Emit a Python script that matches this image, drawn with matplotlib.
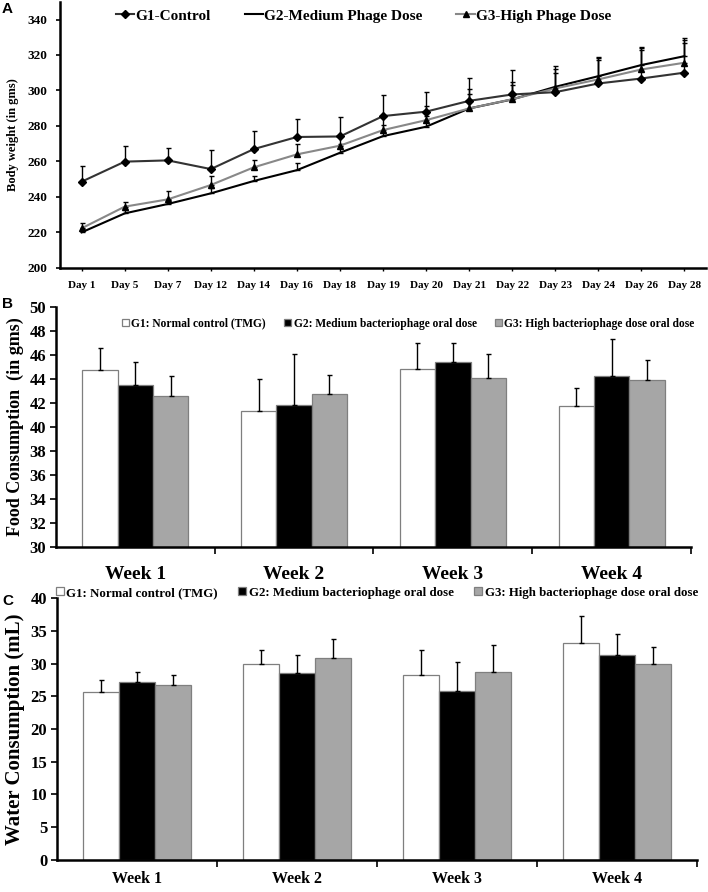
import matplotlib
matplotlib.use("Agg")
import matplotlib.pyplot as plt
from matplotlib.lines import Line2D
import numpy as np

# Panel A: body weight
days = ["Day 1", "Day 5", "Day 7", "Day 12", "Day 14", "Day 16", "Day 18", "Day 19",
        "Day 20", "Day 21", "Day 22", "Day 23", "Day 24", "Day 26", "Day 28"]
g1_bw = [248.5, 259.8, 260.5, 255.6, 266.9, 273.7, 274.0, 285.5, 288.0, 294.1, 297.7, 299.0, 303.9, 306.7, 310.0]
g1_bw_err = [9, 9, 7, 11, 10, 10, 11, 12, 11, 13, 14, 15, 15, 16, 17]
g2_bw = [219.9, 230.6, 235.9, 241.9, 248.9, 255.0, 264.8, 274.2, 279.5, 289.8, 294.9, 302.0, 308.0, 314.3, 319.3]
g2_bw_err = [2, 2, 2, 3, 3, 4, 5, 6, 6, 8, 8, 8, 9, 10, 10]
g3_bw = [222.2, 234.4, 238.5, 246.6, 256.6, 263.9, 268.8, 277.6, 283.2, 289.8, 295.0, 301.1, 306.2, 311.8, 315.6]
g3_bw_err = [3, 2.5, 5, 5, 4, 6, 6, 8, 8, 11, 10, 11, 12, 12, 13]
bw_labels = ["G1-Control", "G2-Medium Phage Dose", "G3-High Phage Dose"]

# Panels B, C: weekly consumption
weeks = ["Week 1", "Week 2", "Week 3", "Week 4"]
grp_labels = ["G1: Normal control (TMG)", "G2: Medium bacteriophage oral dose",
              "G3: High bacteriophage dose oral dose"]
food = [[44.7, 41.3, 44.8, 41.7],
        [43.5, 41.8, 45.4, 44.2],
        [42.6, 42.7, 44.1, 43.9]]
food_err = [[1.9, 2.7, 2.2, 1.5],
            [1.9, 4.3, 1.6, 3.1],
            [1.6, 1.6, 2.0, 1.7]]
water = [[25.7, 30.0, 28.3, 33.1],
         [27.2, 28.6, 25.8, 31.3],
         [26.7, 30.8, 28.7, 30.0]]
water_err = [[1.8, 2.1, 3.7, 4.2],
             [1.5, 2.7, 4.4, 3.2],
             [1.5, 2.9, 4.2, 2.5]]

SERIF = "Liberation Serif"
BAR_COLORS = ["white", "black", "#a6a6a6"]
BAR_EDGE = "#7f7f7f"
LINE_COLORS = ["#333333", "black", "#888888"]
LINE_MARKERS = ["D", None, "^"]

fig = plt.figure(figsize=(7.08, 8.92), dpi=100)


def style_axes(ax):
    for s in ["top", "right"]:
        ax.spines[s].set_visible(False)
    for s in ["left", "bottom"]:
        ax.spines[s].set_linewidth(1.8)
        ax.spines[s].set_color("black")


# ---------- Panel A ----------
axA = fig.add_axes([0.085, 0.70, 0.912, 0.298])
style_axes(axA)
x = np.arange(len(days))
series = [(g1_bw, g1_bw_err), (g2_bw, g2_bw_err), (g3_bw, g3_bw_err)]
sizes = [4, 0, 5]
for i, (vals, err) in enumerate(series):
    axA.errorbar(x, vals, yerr=[np.zeros(len(x)), err], color=LINE_COLORS[i], lw=1.5,
                 marker=LINE_MARKERS[i], ms=sizes[i], mfc="black", mec="black",
                 ecolor="black", elinewidth=1, capsize=1.8, zorder=3 - (i > 0))
axA.set_xlim(-0.5, len(days) - 0.5)
axA.set_ylim(200, 350)
axA.set_yticks(np.arange(200, 341, 20))
axA.set_xticks(x)
axA.set_xticklabels(days)
axA.tick_params(axis="y", direction="out", length=3, width=1.2, labelsize=9.5, pad=6)
axA.tick_params(axis="x", direction="out", length=2, width=1, labelsize=8, pad=8)
for lab in axA.get_xticklabels() + axA.get_yticklabels():
    lab.set_fontfamily(SERIF)
    lab.set_fontweight("bold")
axA.set_ylabel("Body weight (in gms)", fontfamily=SERIF, fontweight="bold", fontsize=9, labelpad=6)
handles = [Line2D([], [], color=LINE_COLORS[i], lw=1.5, marker=LINE_MARKERS[i], ms=sizes[i],
                  mfc="black", mec="black") for i in range(3)]
axA.legend(handles, bw_labels, loc="upper center", bbox_to_anchor=(0.47, 1.025), ncol=3,
           frameon=False, handlelength=1.2, handletextpad=0.1, columnspacing=2.2,
           prop={"family": SERIF, "weight": "bold", "size": 11})
fig.text(0.003, 0.985, "A", fontfamily="Liberation Sans", fontsize=11, fontweight="bold")


def bar_panel(rect, data, err, ylim, yticks, ylabel, ylabel_size, week_size, week_pad,
              legend_y, legend_x, legend_size, letter, letter_y):
    ax = fig.add_axes(rect)
    style_axes(ax)
    idx = np.arange(len(weeks))
    w = 0.223
    for i in range(3):
        ax.bar(idx + (i - 1) * w, data[i], width=w, color=BAR_COLORS[i], edgecolor=BAR_EDGE,
               linewidth=0.9, label=grp_labels[i], zorder=2)
        ax.errorbar(idx + (i - 1) * w, data[i], yerr=[np.zeros(len(idx)), err[i]], fmt="none",
                    ecolor="black", elinewidth=1, capsize=1.8, zorder=3)
    ax.set_xlim(-0.5, len(weeks) - 0.5)
    ax.set_ylim(*ylim)
    ax.set_yticks(yticks)
    ax.set_xticks(np.arange(0.5, len(weeks), 1.0))
    ax.set_xticklabels([])
    ax.set_xticks(idx, minor=True)
    ax.set_xticklabels(weeks, minor=True)
    ax.tick_params(axis="x", which="major", direction="out", length=5, width=1.2)
    ax.tick_params(axis="x", which="minor", length=0, pad=week_pad, labelsize=week_size)
    ax.tick_params(axis="y", direction="out", length=4, width=1.2, labelsize=12, pad=3)
    for lab in ax.get_xticklabels(minor=True) + ax.get_yticklabels():
        lab.set_fontfamily(SERIF)
        lab.set_fontweight("bold")
    ax.set_ylabel(ylabel, fontfamily=SERIF, fontweight="bold", fontsize=ylabel_size, labelpad=4)
    ax.legend(loc="center", bbox_to_anchor=(legend_x, legend_y), ncol=3, frameon=False,
              handlelength=0.6, handleheight=0.6, handletextpad=0.2, columnspacing=1.6,
              prop={"family": SERIF, "weight": "bold", "size": legend_size})
    fig.text(0.003, letter_y, letter, fontfamily="Liberation Sans", fontsize=11, fontweight="bold")
    return ax


# ---------- Panel B ----------
bar_panel([0.079, 0.387, 0.897, 0.269], food, food_err, (30, 50), np.arange(30, 51, 2),
          "Food Consumption  (in gms)", 13, 14, 14, 0.93, 0.555, 8.3, "B", 0.655)

# ---------- Panel C ----------
bar_panel([0.0805, 0.036, 0.904, 0.2935], water, water_err, (0, 40), np.arange(0, 41, 5),
          "Water Consumption (mL)", 15, 11.5, 8, 1.02, 0.5, 9.3, "C", 0.322)

fig.savefig("out.png", dpi=100)
